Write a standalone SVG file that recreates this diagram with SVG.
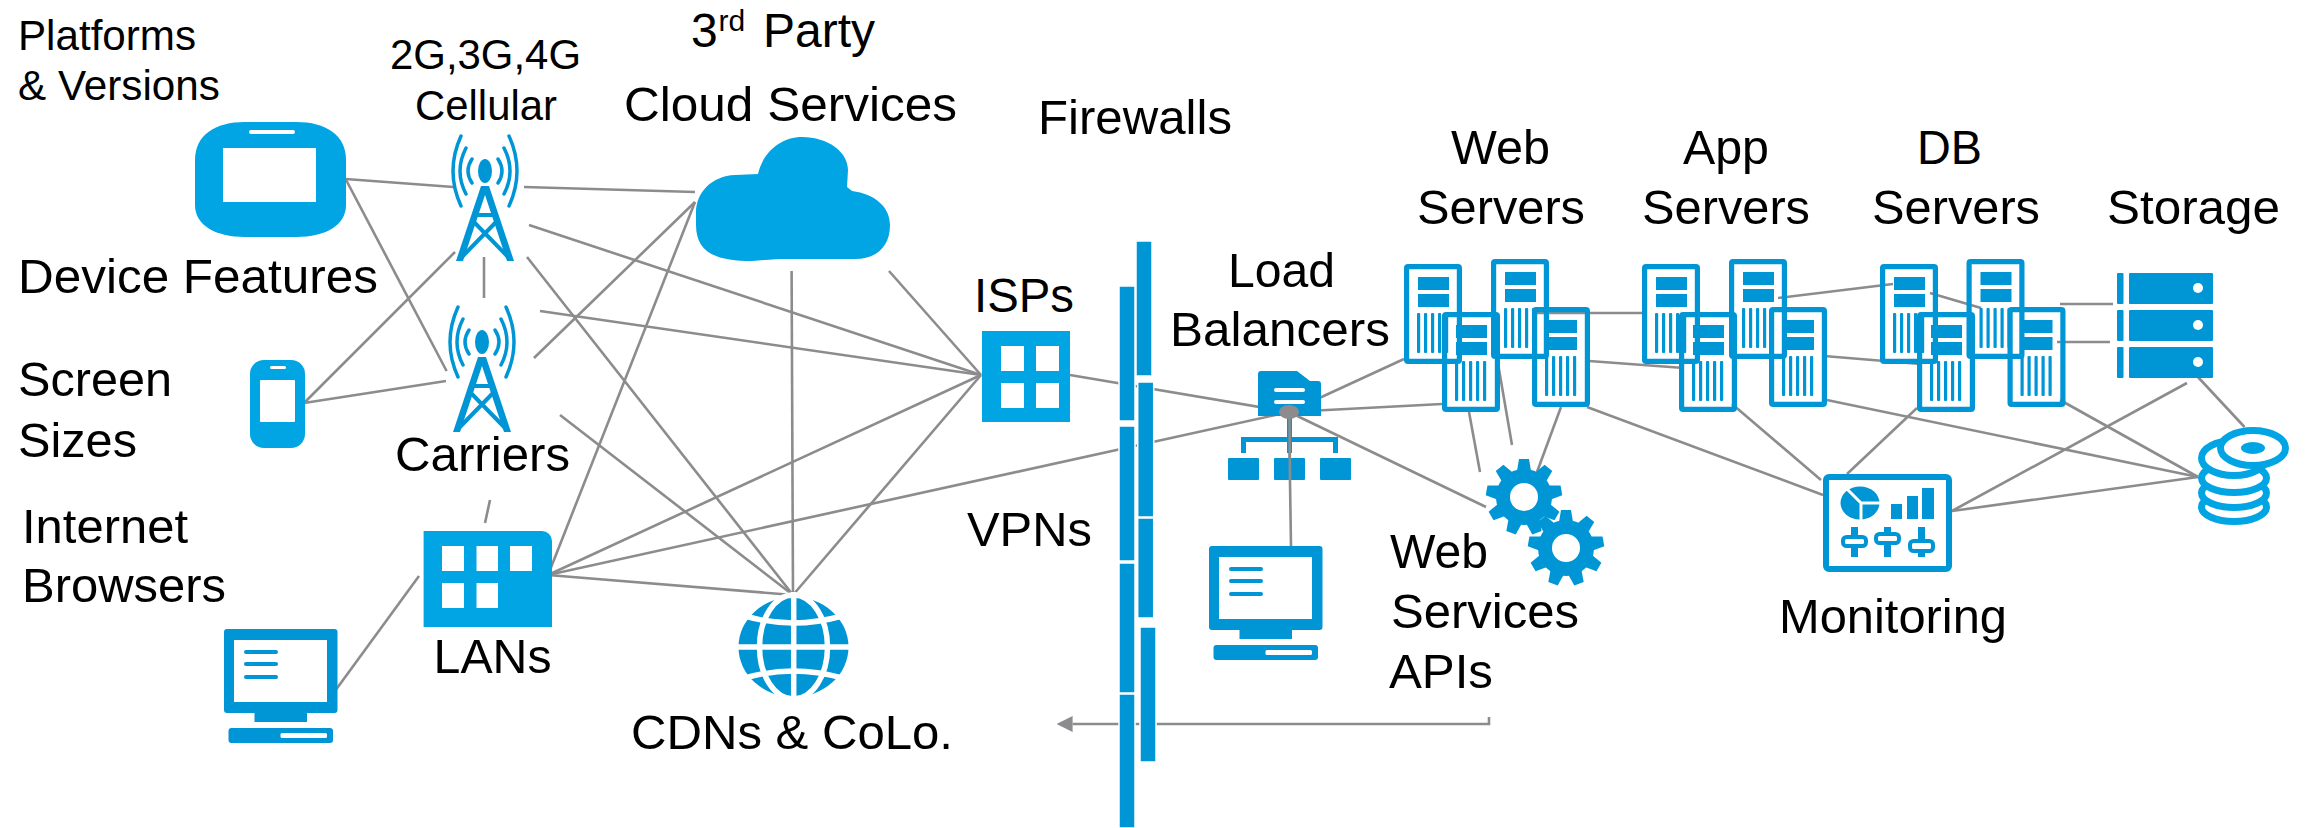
<svg xmlns="http://www.w3.org/2000/svg" xmlns:xlink="http://www.w3.org/1999/xlink" width="2307" height="828" viewBox="0 0 2307 828">
<style>
text{font-family:"Liberation Sans",Arial,sans-serif;fill:#000;font-size:48px}
.s{font-size:42px}
.c path,.c line{stroke:#8c8c8f;stroke-width:2.6;fill:none}
.lt{fill:#02a5e3}
.dk{fill:#0096d6}
.w{fill:#fff}
.fw rect{fill:#0096d6;stroke:#fff;stroke-width:1.5}
.arc{fill:none;stroke:#0096d6;stroke-width:3.5;stroke-linecap:round}
.dsk{fill:#fff;stroke:#02a5e3;stroke-width:7}
.knob{fill:#fff;stroke:#0096d6;stroke-width:4}
</style>
<defs>
<marker id="ah" markerUnits="userSpaceOnUse" markerWidth="16" markerHeight="16" refX="0" refY="8" orient="auto"><polygon points="0,0 16,8 0,16" fill="#8c8c8f"/></marker>
<g id="tower">
<ellipse cx="0" cy="0" rx="7" ry="12" class="dk"/>
<path class="arc" d="M-13,-12Q-21,0 -13,12M13,-12Q21,0 13,12M-19,-23Q-31,0 -19,23M19,-23Q31,0 19,23M-24,-35Q-40,0 -24,35M24,-35Q40,0 24,35"/>
<path class="dk" d="M-4,15L4,15L29,90L22,90L0,24L-22,90L-29,90Z"/>
<path d="M-10,44H10" stroke="#0096d6" stroke-width="4"/>
<path d="M-12,50L25,88M12,50L-25,88" stroke="#0096d6" stroke-width="4"/>
</g>
<g id="pc">
<rect x="0" y="0" width="113.500" height="84" rx="3" class="dk"/>
<rect x="10" y="11" width="93" height="62" class="w"/>
<rect x="20" y="21" width="34" height="4" rx="2" class="dk"/>
<rect x="20" y="33" width="34" height="4" rx="2" class="dk"/>
<rect x="20" y="46" width="34" height="4" rx="2" class="dk"/>
<rect x="30.500" y="84" width="52.500" height="9" class="dk"/>
<rect x="4.500" y="99" width="104.500" height="15" rx="3" class="dk"/>
<rect x="56.500" y="104" width="46.500" height="5" rx="1.500" class="w"/>
</g>
<g id="srv">
<rect x="2.600" y="2.600" width="52.800" height="94.800" rx="1.500" fill="none" stroke="#0096d6" stroke-width="5.200"/>
<rect x="14" y="13" width="31" height="13" class="dk"/>
<rect x="14" y="30" width="31" height="13" class="dk"/>
<rect x="13" y="49" width="3.200" height="40" rx="1" class="dk"/>
<rect x="20" y="49" width="3.200" height="40" rx="1" class="dk"/>
<rect x="27" y="49" width="3.200" height="40" rx="1" class="dk"/>
<rect x="34" y="49" width="3.200" height="40" rx="1" class="dk"/>
<rect x="41" y="49" width="3.200" height="40" rx="1" class="dk"/>
</g>
<g id="gear">
<circle r="21" fill="none" stroke="#0096d6" stroke-width="14"/>
<g class="dk">
<polygon points="-7,-26 -5,-38 5,-38 7,-26"/>
<polygon points="-7,-26 -5,-38 5,-38 7,-26" transform="rotate(40)"/>
<polygon points="-7,-26 -5,-38 5,-38 7,-26" transform="rotate(80)"/>
<polygon points="-7,-26 -5,-38 5,-38 7,-26" transform="rotate(120)"/>
<polygon points="-7,-26 -5,-38 5,-38 7,-26" transform="rotate(160)"/>
<polygon points="-7,-26 -5,-38 5,-38 7,-26" transform="rotate(200)"/>
<polygon points="-7,-26 -5,-38 5,-38 7,-26" transform="rotate(240)"/>
<polygon points="-7,-26 -5,-38 5,-38 7,-26" transform="rotate(280)"/>
<polygon points="-7,-26 -5,-38 5,-38 7,-26" transform="rotate(320)"/>
</g>
</g>
</defs>
<rect width="2307" height="828" fill="#fff"/>
<g id="connectors" class="c">
<line x1="345.600" y1="179" x2="453.500" y2="187"/>
<line x1="345.600" y1="179" x2="446.600" y2="371"/>
<line x1="524" y1="187" x2="695" y2="192"/>
<line x1="529" y1="225" x2="981" y2="375"/>
<line x1="527" y1="257" x2="793" y2="595"/>
<line x1="484" y1="257" x2="484" y2="298"/>
<line x1="304" y1="403" x2="455" y2="252"/>
<line x1="304" y1="403" x2="446" y2="381"/>
<line x1="534" y1="358" x2="695" y2="202"/>
<line x1="540" y1="311" x2="981" y2="375"/>
<line x1="560" y1="415" x2="793" y2="595"/>
<line x1="548" y1="575" x2="695" y2="202"/>
<line x1="548" y1="575" x2="981" y2="375"/>
<line x1="548" y1="575" x2="1289" y2="412"/>
<line x1="548" y1="575" x2="793" y2="595"/>
<line x1="791.600" y1="271" x2="793" y2="595"/>
<line x1="889" y1="271" x2="981" y2="375"/>
<line x1="793" y1="595" x2="981" y2="375"/>
<line x1="490" y1="500" x2="485" y2="523"/>
<line x1="335" y1="691" x2="419" y2="576"/>
<line x1="1070" y1="375" x2="1289" y2="412"/>
<line x1="1289" y1="412" x2="1404" y2="359"/>
<line x1="1289" y1="412" x2="1442" y2="404"/>
<line x1="1289" y1="412" x2="1486" y2="507"/>
<line x1="1289" y1="417" x2="1291" y2="546"/>
<line x1="1469" y1="412" x2="1480" y2="472"/>
<line x1="1496" y1="352" x2="1512" y2="445"/>
<line x1="1561" y1="407" x2="1537" y2="472"/>
<line x1="1537" y1="313" x2="1643" y2="313"/>
<line x1="1589" y1="361" x2="1684" y2="368"/>
<line x1="1587" y1="407" x2="1823" y2="495"/>
<line x1="1732" y1="404" x2="1821" y2="480"/>
<line x1="1778" y1="298" x2="1893" y2="284"/>
<line x1="1824" y1="356" x2="1920.500" y2="364"/>
<line x1="1822" y1="399" x2="2198" y2="477"/>
<line x1="1930" y1="293" x2="1981" y2="308"/>
<line x1="1917" y1="408" x2="1847" y2="474"/>
<line x1="2060" y1="400" x2="2198" y2="477"/>
<line x1="1952" y1="511" x2="2198" y2="477"/>
<line x1="1952" y1="511" x2="2187" y2="383"/>
<line x1="2197" y1="376" x2="2244.500" y2="427"/>
<line x1="2060" y1="304" x2="2113" y2="304"/>
<line x1="2057" y1="342" x2="2110" y2="342"/>
<path d="M1489,717V724H1072.600" marker-end="url(#ah)"/>
</g>
<g id="tablet">
<path class="lt" d="M195,160C195,135 215,122 245,122L296,122C326,122 346,135 346,160L346,205C346,225 326,237 296,237L245,237C215,237 195,225 195,205Z"/>
<rect x="223" y="148" width="93" height="54" class="w"/>
<rect x="249" y="130" width="46" height="4" rx="2" class="w"/>
<text class="s" x="18" y="50" textLength="178" lengthAdjust="spacingAndGlyphs">Platforms</text>
<text class="s" x="18" y="100" textLength="202" lengthAdjust="spacingAndGlyphs">&amp; Versions</text>
<text x="18" y="293" textLength="360" lengthAdjust="spacingAndGlyphs">Device Features</text>
</g>
<g id="phone">
<rect x="250" y="360" width="55" height="88" rx="14" class="lt"/>
<rect x="260" y="380" width="35" height="42" rx="1" class="w"/>
<rect x="270" y="366" width="16" height="3" rx="1.500" class="w"/>
<text x="18" y="396" textLength="154" lengthAdjust="spacingAndGlyphs">Screen</text>
<text x="18" y="457" textLength="119" lengthAdjust="spacingAndGlyphs">Sizes</text>
</g>
<g id="tower-top">
<use href="#tower" xlink:href="#tower" transform="translate(485,171)"/>
<text class="s" x="390" y="69" textLength="191" lengthAdjust="spacingAndGlyphs">2G,3G,4G</text>
<text class="s" x="415" y="120" textLength="142" lengthAdjust="spacingAndGlyphs">Cellular</text>
</g>
<g id="tower-bottom">
<use href="#tower" xlink:href="#tower" transform="translate(482,342)"/>
<text x="395" y="471" textLength="175" lengthAdjust="spacingAndGlyphs">Carriers</text>
</g>
<g id="lan">
<path class="lt" d="M423.600,531H542A10,10 0 0 1 552,541V627H423.600Z"/>
<rect x="442" y="546" width="22" height="25" class="w"/>
<rect x="476.500" y="546" width="21.500" height="25" class="w"/>
<rect x="510" y="546" width="22" height="25" class="w"/>
<rect x="442" y="583" width="22" height="25" class="w"/>
<rect x="476.500" y="583" width="21.500" height="25" class="w"/>
<text x="433.600" y="673" textLength="118" lengthAdjust="spacingAndGlyphs">LANs</text>
</g>
<g id="browser-pc">
<use href="#pc" xlink:href="#pc" transform="translate(224,629)"/>
<text x="22" y="543" textLength="166" lengthAdjust="spacingAndGlyphs">Internet</text>
<text x="22" y="602" textLength="204" lengthAdjust="spacingAndGlyphs">Browsers</text>
</g>
<g id="cloud">
<path class="lt" d="M696,213C696,192 712,176 735,175L758,174C763,152 781,137 802,137C828,137 848,152 848,170L847,187L852,191C875,194 890,207 890,225C890,248 875,259 855,259L779,259L752,261C720,261 696,255 696,225Z"/>
<text x="691" y="47">3<tspan x="718.500" dy="-16" style="font-size:30px">rd</tspan><tspan x="763" dy="16">Party</tspan></text>
<text x="624" y="121" textLength="333" lengthAdjust="spacingAndGlyphs">Cloud Services</text>
</g>
<g id="isp">
<rect x="982" y="331" width="88" height="91" class="lt"/>
<rect x="1001" y="346" width="23" height="25" class="w"/>
<rect x="1036" y="346" width="23" height="25" class="w"/>
<rect x="1001" y="383" width="23" height="25" class="w"/>
<rect x="1036" y="383" width="23" height="25" class="w"/>
<text x="974" y="312" textLength="100" lengthAdjust="spacingAndGlyphs">ISPs</text>
</g>
<g id="cdn">
<ellipse cx="793.500" cy="647" rx="55" ry="50" class="dk"/>
<g fill="none" stroke="#fff" stroke-width="5.500">
<path d="M793.700,592V702"/>
<path d="M733,647H854"/>
<ellipse cx="793.500" cy="647" rx="34" ry="52"/>
<path d="M745,616Q793,630 842,616"/>
<path d="M745,678Q793,664 842,678"/>
</g>
<text x="631" y="749" textLength="322" lengthAdjust="spacingAndGlyphs">CDNs &amp; CoLo.</text>
</g>
<g id="firewalls">
<g class="fw">
<rect x="1136" y="241" width="16" height="135"/>
<rect x="1137.700" y="382" width="16" height="135"/>
<rect x="1137.700" y="518" width="16" height="100"/>
<rect x="1140" y="627" width="16" height="135"/>
<rect x="1119" y="286" width="16" height="135"/>
<rect x="1119" y="426" width="16" height="135"/>
<rect x="1119" y="563" width="16" height="130"/>
<rect x="1119" y="694" width="16" height="134"/>
</g>
<text x="1038" y="134" textLength="194" lengthAdjust="spacingAndGlyphs">Firewalls</text>
<text x="967" y="546" textLength="125" lengthAdjust="spacingAndGlyphs">VPNs</text>
</g>
<g id="load-balancer">
<path class="dk" d="M1258,374A3,3 0 0 1 1261,371H1297L1310,381H1318A3,3 0 0 1 1321,384V416H1258Z"/>
<rect x="1274" y="388" width="31" height="4" rx="2" class="w"/>
<rect x="1274" y="400" width="31" height="4" rx="2" class="w"/>
<rect x="1287" y="416" width="5" height="37" class="dk"/>
<path d="M1243.500,453V439.500H1335.500V453" fill="none" stroke="#0096d6" stroke-width="5"/>
<rect x="1228" y="458" width="31" height="22" rx="1" class="dk"/>
<rect x="1274" y="458" width="31" height="22" rx="1" class="dk"/>
<rect x="1320" y="458" width="31" height="22" rx="1" class="dk"/>
<line x1="1289.500" y1="417" x2="1290" y2="480" stroke="#8c8c8f" stroke-width="2.600"/>
<ellipse cx="1289" cy="412" rx="10" ry="7" fill="#8c8c8f"/>
<text x="1228" y="287" textLength="107" lengthAdjust="spacingAndGlyphs">Load</text>
<text x="1170" y="346" textLength="220" lengthAdjust="spacingAndGlyphs">Balancers</text>
</g>
<g id="lb-pc"><use href="#pc" xlink:href="#pc" transform="translate(1209,546)"/></g>
<g id="web-servers">
<use href="#srv" xlink:href="#srv" x="1404" y="264"/>
<use href="#srv" xlink:href="#srv" x="1491" y="259"/>
<use href="#srv" xlink:href="#srv" x="1442" y="312"/>
<use href="#srv" xlink:href="#srv" x="1532" y="307"/>
<text x="1451" y="164" textLength="99" lengthAdjust="spacingAndGlyphs">Web</text>
<text x="1417" y="224" textLength="168" lengthAdjust="spacingAndGlyphs">Servers</text>
</g>
<g id="app-servers">
<use href="#srv" xlink:href="#srv" x="1642" y="264"/>
<use href="#srv" xlink:href="#srv" x="1729" y="259"/>
<use href="#srv" xlink:href="#srv" x="1679" y="312"/>
<use href="#srv" xlink:href="#srv" x="1769" y="307"/>
<text x="1683" y="164" textLength="86" lengthAdjust="spacingAndGlyphs">App</text>
<text x="1642" y="224" textLength="168" lengthAdjust="spacingAndGlyphs">Servers</text>
</g>
<g id="db-servers">
<use href="#srv" xlink:href="#srv" x="1880" y="264"/>
<use href="#srv" xlink:href="#srv" x="1966.500" y="259"/>
<use href="#srv" xlink:href="#srv" x="1917" y="312"/>
<use href="#srv" xlink:href="#srv" x="2007.500" y="307"/>
<text x="1917" y="164" textLength="65" lengthAdjust="spacingAndGlyphs">DB</text>
<text x="1872" y="224" textLength="168" lengthAdjust="spacingAndGlyphs">Servers</text>
</g>
<g id="storage">
<rect x="2117" y="273" width="6.500" height="31" rx="1" class="dk"/><rect x="2129" y="273" width="84" height="31" rx="1" class="dk"/>
<rect x="2117" y="310" width="6.500" height="31" rx="1" class="dk"/><rect x="2129" y="310" width="84" height="31" rx="1" class="dk"/>
<rect x="2117" y="347" width="6.500" height="31" rx="1" class="dk"/><rect x="2129" y="347" width="84" height="31" rx="1" class="dk"/>
<circle cx="2198" cy="288" r="5" class="w"/><circle cx="2198" cy="325" r="5" class="w"/><circle cx="2198" cy="362" r="5" class="w"/>
<text x="2107" y="224" textLength="173" lengthAdjust="spacingAndGlyphs">Storage</text>
</g>
<g id="disks">
<ellipse cx="2234" cy="507" rx="32.500" ry="14.500" class="dsk"/>
<ellipse cx="2234" cy="493" rx="32.500" ry="14.500" class="dsk"/>
<ellipse cx="2234" cy="478" rx="32.500" ry="14.500" class="dsk"/>
<ellipse cx="2234" cy="458" rx="32.500" ry="17.500" class="dsk"/>
<ellipse cx="2253" cy="448" rx="32.500" ry="17.500" class="dsk"/>
<ellipse cx="2253" cy="448" rx="12" ry="6" class="lt"/>
</g>
<g id="web-services">
<use href="#gear" xlink:href="#gear" transform="translate(1524,497)"/>
<circle cx="1566" cy="548" r="30" class="w"/>
<use href="#gear" xlink:href="#gear" transform="translate(1566,548)"/>
<text x="1390" y="568" textLength="98" lengthAdjust="spacingAndGlyphs">Web</text>
<text x="1391" y="628" textLength="188" lengthAdjust="spacingAndGlyphs">Services</text>
<text x="1389" y="688" textLength="104" lengthAdjust="spacingAndGlyphs">APIs</text>
</g>
<g id="monitoring">
<rect x="1826" y="477" width="123" height="92" rx="3" fill="#fff" stroke="#0096d6" stroke-width="6"/>
<ellipse cx="1860" cy="503" rx="19.500" ry="16.500" class="dk"/>
<path d="M1847,489L1861,503L1881,503M1861,503V521" fill="none" stroke="#fff" stroke-width="3"/>
<rect x="1891" y="504" width="11" height="15" class="dk"/>
<rect x="1907" y="496" width="11" height="23" class="dk"/>
<rect x="1922" y="488" width="12" height="31" class="dk"/>
<rect x="1851" y="527" width="7" height="30" class="dk"/>
<rect x="1884" y="527" width="7" height="30" class="dk"/>
<rect x="1918" y="527" width="7" height="30" class="dk"/>
<rect x="1843" y="537" width="23" height="9" rx="3.500" class="knob"/>
<rect x="1876" y="534" width="23" height="9" rx="3.500" class="knob"/>
<rect x="1910" y="541" width="23" height="10" rx="3.500" class="knob"/>
<text x="1779" y="633" textLength="228" lengthAdjust="spacingAndGlyphs">Monitoring</text>
</g>
</svg>
